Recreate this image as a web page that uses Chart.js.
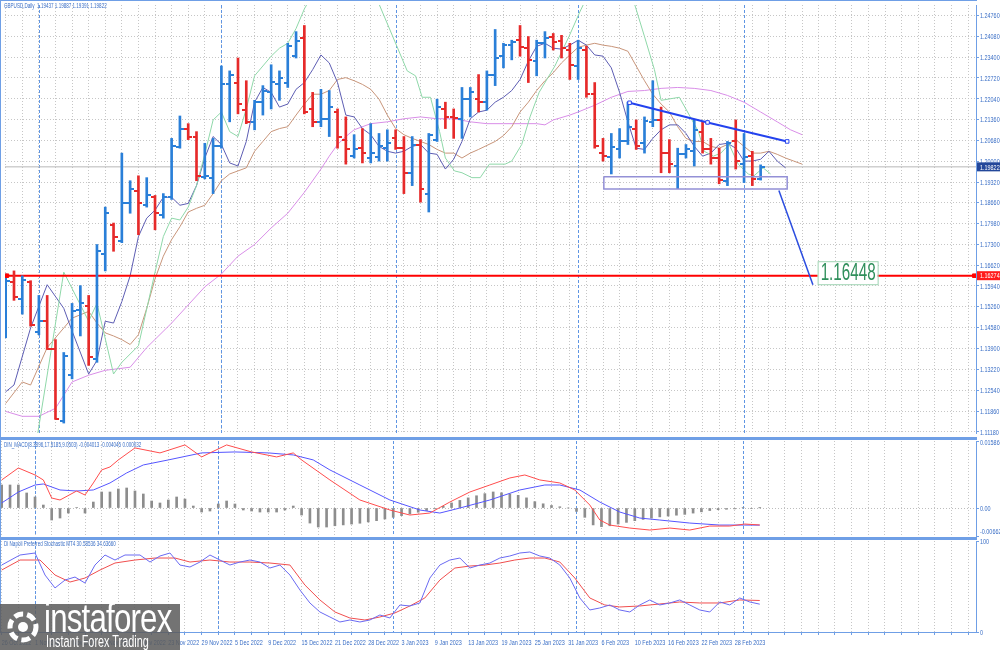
<!DOCTYPE html>
<html>
<head>
<meta charset="utf-8">
<script src="https://cdn.jsdelivr.net/npm/chart.js@4.4.0/dist/chart.umd.min.js"></script>
<style>
  html, body { margin: 0; padding: 0; background: #fff; }
  #wrap { position: relative; width: 1000px; height: 650px; overflow: hidden; background: #fff; }
  #wrap canvas { position: absolute; left: 0; }
  .hdr { position: absolute; left: 4px; font-family: "Liberation Sans", Arial, sans-serif; font-size: 7px; line-height: 8px; color: #3b6fc6;
         white-space: nowrap; transform: scaleX(0.65); transform-origin: left top; }
  .line { position: absolute; background: #6f9fe6; }
  #logo { position: absolute; left: 0; top: 604px; width: 180px; height: 46px; background: rgba(92, 92, 92, 0.86); color: #fff; overflow: hidden; }
  #logo .big { position: absolute; left: 44px; top: -8px; font-family: "Liberation Sans", sans-serif; font-size: 40px; letter-spacing: -1px; transform: scaleX(0.78); transform-origin: left top; }
  #logo .small { position: absolute; left: 46px; top: 29px; font-family: "Liberation Sans", sans-serif; font-size: 16px; transform: scaleX(0.68); transform-origin: left top; white-space: nowrap; }
  #logo svg { position: absolute; left: 4px; top: 4px; }
</style>
</head>
<body>
<div id="wrap">
  <canvas id="mainChart" width="1000" height="438" style="top:0"></canvas>
  <canvas id="macdChart" width="1000" height="100" style="top:438px"></canvas>
  <canvas id="stochChart" width="1000" height="112" style="top:538px"></canvas>

  <div class="line" style="left:0;top:0;width:977px;height:1px"></div>
  <div class="line" style="left:0;top:0;width:1px;height:633px"></div>
  <div class="line" style="left:0;top:437px;width:977px;height:3px"></div>
  <div class="line" style="left:0;top:537px;width:977px;height:3px"></div>

  <div class="hdr" style="top:2px">GBPUSD,Daily&nbsp; 1.19437 1.19887 1.19391 1.19822</div>
  <div class="hdr" style="top:441px">DIN_MACD(8.3896,17.5185,9.0503) -0.004013 -0.004045 0.000032</div>
  <div class="hdr" style="top:540px">Di Napoli Preferred Stochastic MT4 30.58536 34.63660</div>

  <div id="logo">
    <svg width="38" height="38" viewBox="0 0 38 38">
      <circle cx="19" cy="19" r="13" fill="none" stroke="#fff" stroke-width="5" stroke-dasharray="9 4"/>
      <circle cx="19" cy="19" r="5" fill="#fff"/>
    </svg>
    <div class="big">instaforex</div>
    <div class="small">Instant Forex Trading</div>
  </div>
</div>

<script>
// price bars, left to right (26 Oct 2022 .. 3 Mar 2023)
const opens  = [1.1495,1.1607,1.1553,1.1607,1.1444,1.1479,1.1387,1.1153,1.1303,1.1515,1.1527,1.1355,1.1697,1.1793,1.1739,1.1863,1.1905,1.1857,1.1883,1.1825,
  1.1883,1.2046,1.2107,1.2081,1.1950,1.1947,1.2049,1.2251,1.2257,1.2167,1.2129,1.2193,1.2225,1.2251,1.2257,1.2343,1.2401,1.2171,1.2129,1.2139,
  1.2161,1.2071,1.2017,1.2043,1.2011,1.2014,1.2043,1.2075,1.2043,1.1963,1.2055,1.1895,1.2071,1.2171,1.2145,1.2139,1.2203,1.2203,1.2193,1.2283,
  1.2343,1.2379,1.2395,1.2369,1.2327,1.2385,1.2407,1.2391,1.2363,1.2311,1.2363,1.2219,1.2027,1.2014,1.2039,1.2065,1.2107,1.2059,1.2129,1.2135,
  1.2027,1.1985,1.2023,1.2033,1.2097,1.2039,1.2011,1.1937,1.2065,1.1993,1.2017,1.19437];
const highs  = [1.1633,1.1643,1.1627,1.1611,1.1563,1.1563,1.1419,1.1377,1.1537,1.1595,1.1563,1.1729,1.1851,1.1799,1.2027,1.1937,1.1953,1.1947,1.1889,1.1895,
  1.2075,1.2148,1.2123,1.2097,1.2059,1.2075,1.2311,1.2295,1.2337,1.2263,1.2199,1.2247,1.2315,1.2295,1.2385,1.2423,1.2443,1.2225,1.2235,1.2231,
  1.2171,1.2145,1.2087,1.2107,1.2123,1.2091,1.2103,1.2103,1.2081,1.2081,1.2071,1.2091,1.2203,1.2193,1.2171,1.2241,1.2241,1.2283,1.2295,1.2430,
  1.2385,1.2395,1.2443,1.2407,1.2395,1.2423,1.2417,1.2411,1.2385,1.2395,1.2375,1.2257,1.2075,1.2091,1.2107,1.2193,1.2135,1.2145,1.2263,1.2177,
  1.2071,1.2043,1.2055,1.2135,1.2129,1.2075,1.2043,1.2065,1.2135,1.2091,1.2033,1.19887];
const lows   = [1.1425,1.1547,1.1502,1.1463,1.1435,1.1387,1.1159,1.1147,1.1291,1.1431,1.1335,1.1345,1.1643,1.1707,1.1735,1.1831,1.1761,1.1851,1.1777,1.1815,
  1.1876,1.2043,1.2071,1.1937,1.1943,1.1895,1.2043,1.2129,1.2155,1.2123,1.2103,1.2151,1.2171,1.2199,1.2241,1.2337,1.2155,1.2113,1.2113,1.2081,
  1.2043,1.1991,1.2011,1.1995,1.1995,1.2001,1.2001,1.2039,1.1895,1.1921,1.1867,1.1835,1.2065,1.2107,1.2075,1.2075,1.2145,1.2161,1.2167,1.2247,
  1.2305,1.2331,1.2343,1.2257,1.2279,1.2337,1.2363,1.2337,1.2267,1.2267,1.2209,1.2043,1.2001,1.1959,1.2011,1.2055,1.2039,1.2027,1.2113,1.1963,
  1.1963,1.1911,1.2011,1.1985,1.2027,1.1991,1.1927,1.1921,1.1975,1.1931,1.1921,1.19391];
const closes = [1.1611,1.1559,1.1614,1.1467,1.1479,1.1390,1.1159,1.1367,1.1511,1.1540,1.1361,1.1707,1.1831,1.1755,1.1863,1.1911,1.1863,1.1889,1.1831,1.1883,
  1.2049,1.2107,1.2081,1.1953,1.1953,1.2049,1.2251,1.2283,1.2187,1.2129,1.2193,1.2231,1.2260,1.2273,1.2375,1.2391,1.2161,1.2129,1.2139,1.2177,
  1.2081,1.2039,1.2039,1.2027,1.2027,1.2049,1.2059,1.2043,1.1963,1.2055,1.1911,1.2087,1.2177,1.2145,1.2142,1.2203,1.2225,1.2193,1.2283,1.2337,
  1.2379,1.2388,1.2372,1.2331,1.2385,1.2401,1.2388,1.2369,1.2315,1.2369,1.2219,1.2049,1.2017,1.2046,1.2065,1.2113,1.2049,1.2132,1.2135,1.2027,
  1.1991,1.2023,1.2039,1.2103,1.2039,1.2011,1.1940,1.2059,1.2001,1.2014,1.1944,1.19822];

// displaced moving averages, [bar, price]
const maFast = [[3.4,1.1035],[7,1.1639],[10,1.1479],[11,1.1537],[13,1.1307],[14,1.1345],[16,1.1399],[18,1.1639],[19,1.1755],[20,1.1815],[21,1.1809],[22,1.1851],
  [23,1.1921],[24,1.2023],[25,1.2135],[26,1.2161],[27,1.2097],[28,1.2081],[29,1.2171],[30,1.2279],[31,1.2311],[32,1.2343],[33,1.2369],[34,1.2385],[35,1.2433],
  [36,1.2497],[37,1.2545],[39,1.2590],[41,1.2600],[43,1.2575],[45,1.2513],[47.5,1.2353],[48.4,1.2295],[49.4,1.2279],[50.2,1.2209],[51.2,1.2209],[52.3,1.2097],
  [53,1.2011],[54.1,1.1969],[55,1.1963],[56.2,1.1947],[57.2,1.1947],[58.3,1.1991],[60.2,1.1991],[61,1.2001],[62.2,1.2055],[63.2,1.2145],[64.3,1.2225],
  [66.2,1.2311],[67.9,1.2407],[69.2,1.2487],[70.5,1.2560],[72.5,1.2600],[74.5,1.2580],[75.8,1.2513],[77,1.2407],[78.2,1.2299],[79,1.2199],[81.2,1.2209],
  [82.4,1.2151],[83.5,1.2097],[84.2,1.2033],[85.3,1.2017],[86.2,1.2027],[87.2,1.2055],[88.3,1.1991],[89.5,1.1959],[90.2,1.1953],[91.3,1.1979],[92.2,1.1959]];
const maMid = [[0,1.1249],[1,1.1271],[3,1.1457],[5,1.1598],[7,1.1521],[8,1.1447],[10,1.1307],[11,1.1351],[12,1.1479],[13,1.1473],[14,1.1543],[15,1.1627],
  [16,1.1755],[17,1.1815],[18,1.1841],[19,1.1883],[20,1.1883],[21,1.1857],[22,1.1863],[23,1.1921],[24,1.2011],[25,1.2081],[26,1.2055],[27,1.1995],[28,1.1985],
  [29,1.2065],[30,1.2193],[31,1.2241],[32,1.2225],[33,1.2177],[34,1.2187],[35,1.2235],[36,1.2257],[37,1.2299],[38,1.2347],[39,1.2321],[40,1.2257],[41,1.2151],
  [42,1.2145],[43,1.2107],[44,1.2087],[45,1.2049],[46,1.2033],[47,1.2027],[48,1.2033],[49,1.2049],[50,1.2055],[51,1.2027],[52,1.2023],[53,1.1975],[54,1.2007],
  [55,1.2065],[56,1.2139],[57,1.2161],[58,1.2167],[59,1.2193],[60,1.2209],[61,1.2231],[62,1.2267],[63,1.2327],[64,1.2375],[65,1.2385],[66,1.2369],[67,1.2366],
  [68,1.2379],[69,1.2395],[70,1.2379],[71,1.2347],[72,1.2343],[73,1.2305],[74,1.2225],[75,1.2129],[76,1.2043],[77,1.2039],[78,1.2075],[79,1.2103],[80,1.2119],
  [81,1.2119],[82,1.2091],[83,1.2049],[84,1.2017],[85,1.2027],[86,1.2055],[87,1.2059],[88,1.2043],[89,1.2001],[90,1.2001],[91,1.2007],[92,1.2033],[93,1.2001],[94,1.1979]];
const maSlow = [[0,1.1211],[2,1.1281],[3,1.1271],[5,1.1393],[7,1.1457],[8,1.1489],[10,1.1511],[11,1.1473],[12,1.1441],[13,1.1431],[14,1.1419],[15,1.1403],
  [16,1.1435],[17,1.1521],[18,1.1617],[19,1.1691],[20,1.1745],[21,1.1787],[22,1.1835],[23,1.1847],[24,1.1857],[25,1.1895],[26,1.1937],[27,1.1959],[28,1.1969],
  [29,1.1979],[30,1.2033],[31,1.2065],[32,1.2097],[33,1.2107],[34,1.2113],[35,1.2151],[36,1.2187],[37,1.2219],[38,1.2219],[39,1.2231],[40,1.2267],[41,1.2273],
  [42,1.2263],[43,1.2251],[44,1.2235],[45,1.2203],[46,1.2151],[47,1.2107],[48,1.2087],[49,1.2075],[51,1.2055],[52,1.2039],[53,1.2027],[54,1.2027],[55,1.2011],
  [56,1.2027],[57,1.2039],[59,1.2065],[60,1.2084],[61,1.2113],[62,1.2161],[63,1.2193],[64,1.2231],[65,1.2263],[66,1.2289],[67,1.2321],[68,1.2347],[69,1.2372],
  [70,1.2379],[71,1.2385],[72,1.2379],[73,1.2375],[74,1.2369],[75,1.2359],[76,1.2311],[77,1.2263],[78,1.2219],[79,1.2187],[80,1.2161],[81,1.2113],[82,1.2075],
  [83,1.2065],[84,1.2065],[85,1.2049],[86,1.2043],[87,1.2055],[88,1.2071],[89,1.2049],[90,1.2027],[91,1.2027],[92,1.2033],[93,1.2023],[94,1.2011],[95,1.2001],[96,1.1991]];
const maLong = [[0,1.1185],[2,1.1169],[4,1.1169],[6,1.1195],[8,1.1281],[10,1.1303],[12,1.1319],[15,1.1329],[17,1.1393],[20,1.1473],[24,1.1591],[26,1.1633],
  [28,1.1691],[30,1.1729],[32,1.1783],[34,1.1831],[36,1.1899],[38,1.1975],[39,1.2017],[40,1.2055],[41,1.2081],[42,1.2103],[44,1.2123],[46,1.2129],[48,1.2139],
  [50,1.2145],[52,1.2139],[54,1.2139],[56,1.2129],[58,1.2123],[60,1.2123],[62,1.2123],[64,1.2123],[65,1.2119],[66,1.2135],[68,1.2151],[69,1.2161],[71,1.2183],
  [73,1.2209],[75,1.2228],[77,1.2231],[79,1.2238],[81,1.2241],[83,1.2238],[85,1.2231],[87,1.2215],[89,1.2193],[91,1.2161],[93,1.2129],[94.6,1.2103],[96,1.2087]];

// drawn objects
const trendLine = [[75.2,1.2191],[84.6,1.2127],[94.2,1.2065]];
const arrowLine = [[93.2,1.1905],[97.3,1.1598]];
const supportBox = [[72.1,1.1950],[94.2,1.1950],[94.2,1.1910],[72.1,1.1910],[72.1,1.1950]];
const LEVEL = 1.16274;
const levelEnds = [0.15, 116.75];
const TARGET_TEXT = '1.16448';
const TARGET_AT = [97.87, 1.16746];

// MACD panel
const macdRed = [[0,0.00664],[2,0.00948],[4,0.00782],[5,0.00664],[6,0.00237],[7,0.00190],[9,0.00403],[10,0.00308],[11,0.00593],[12,0.00901],[13,0.00972],
  [14,0.01138],[16,0.01422],[19,0.01304],[22,0.01493],[24,0.01209],[27,0.01493],[30,0.01327],[33,0.01209],[35,0.01304],[36,0.01138],[39.4,0.00664],[43,0.00190],
  [46.6,-0.00047],[49,-0.00166],[51.4,-0.00119],[53.8,0.00142],[56.2,0.00379],[58.6,0.00545],[61,0.00711],[62.8,0.00782],[64.6,0.00664],[67,0.00593],[68.8,0.00427],
  [70.6,0.00071],[71.8,-0.00284],[73,-0.00403],[75.4,-0.00474],[77.8,-0.00521],[80.2,-0.00474],[82.6,-0.00521],[85,-0.00427],[87.4,-0.00427],[89.2,-0.00379],[91,-0.00401]];
const macdBlue = [[0,0.00119],[2,0.00379],[4,0.00545],[5,0.00569],[7,0.00427],[9,0.00403],[11,0.00427],[13,0.00593],[15,0.00830],[17,0.01019],[20,0.01138],
  [24,0.01304],[28,0.01327],[32,0.01304],[35,0.01256],[37.4,0.01138],[39.4,0.00901],[43,0.00545],[46.6,0.00190],[50.2,-0.00047],[52.6,-0.00119],[55,0.0],
  [58.6,0.00190],[62.2,0.00427],[65.2,0.00545],[67,0.00545],[69.4,0.00427],[71.8,0.00142],[74.2,-0.00095],[76.6,-0.00237],[79,-0.00284],[82.6,-0.00356],
  [86.2,-0.00403],[89.2,-0.00403],[91,-0.00405]];
const macdHist = [0.00545,0.00545,0.00545,0.00356,0.00261,0.00071,-0.00284,-0.00237,-0.00119,0.0001,-0.00119,0.00142,0.00379,0.00379,0.00450,0.00474,0.00403,0.00332,
  0.00166,0.00119,0.00190,0.00261,0.00213,0.00047,-0.00095,-0.00071,0.00095,0.00166,0.00095,-0.00047,-0.00071,-0.00095,-0.00095,-0.00095,-0.00047,0.00047,
  -0.00166,-0.00356,-0.00450,-0.00450,-0.0042,-0.0040,-0.0038,-0.0036,-0.0033,-0.0030,-0.0026,-0.0022,-0.0018,-0.0014,-0.0010,-0.0006,-0.0002,0.0004,0.0012,
  0.0018,0.0024,0.0029,0.0034,0.0038,0.0036,0.0033,0.0030,0.0024,0.0015,0.0010,0.0006,0.0003,0.0,-0.0008,-0.0022,-0.0040,-0.0044,-0.0042,-0.0038,-0.0034,
  -0.0030,-0.0027,-0.0024,-0.0021,-0.0019,-0.0017,-0.0015,-0.0012,-0.0009,-0.0006,-0.0004,-0.0003,-0.0002,0.0001,-0.0001,0.00003];
const macdTicks = [0.01586, 0, -0.006622];
const macdTickLabels = ['0.01586', '0.00', '-0.006622'];

// stochastic panel
const stochK = [[0,73.6],[2.2,84.6],[4,86.8],[5.2,62.6],[6.4,48.4],[7.6,57.1],[8.8,60.4],[10,53.8],[11.2,73.6],[12.4,84.6],[13.6,79.1],[14.8,84.6],[16.6,84.6],
  [17.8,76.9],[19,83.5],[20.2,86.8],[21.4,73.6],[22.6,71.4],[23.8,76.9],[25,84.6],[26.2,79.1],[27.4,73.6],[28.6,76.9],[29.8,79.1],[31,76.9],[32.2,70.3],
  [33.4,73.6],[34.6,62.6],[35.8,46.2],[37,31.9],[38.2,22.0],[39.4,16.5],[40.6,11.0],[41.8,13.2],[43,11.0],[44.2,13.2],[45.4,18.7],[46.6,15.4],[47.8,29.7],
  [49,28.6],[50.2,31.9],[51.4,59.3],[52.6,73.6],[53.8,79.1],[55,81.3],[56.2,70.3],[57.4,73.6],[58.6,75.8],[59.8,81.3],[61,83.5],[62.2,86.8],[63.4,87.9],
  [64.6,83.5],[65.8,81.3],[67,73.6],[68.2,59.3],[69.4,37.4],[70.6,24.2],[71.8,26.4],[73,29.7],[74.2,24.2],[75.4,22.0],[76.6,29.7],[77.8,35.2],[79,29.7],
  [80.2,31.9],[81.4,35.2],[82.6,29.7],[83.8,24.2],[85,22.0],[86.2,33.0],[87.4,29.7],[88.6,37.4],[89.8,33.0],[91,30.59]];
const stochD = [[0,68.1],[2.2,79.1],[4.6,79.1],[6.4,62.6],[8.2,54.9],[10,59.3],[11.8,68.1],[13.6,75.8],[16,79.1],[18.4,81.3],[20.8,81.3],[22.6,76.9],[25,79.1],
  [27.4,76.9],[29.8,76.9],[32.2,75.8],[34.6,73.6],[36.4,51.6],[38.2,35.2],[40,22.0],[41.8,15.4],[43.6,13.2],[45.4,16.5],[47.2,20.9],[49,28.6],[50.8,37.4],
  [52.6,57.1],[54.4,70.3],[56.2,72.5],[58,73.6],[59.8,75.8],[61.6,79.1],[63.4,81.3],[65.2,81.3],[67,76.9],[68.8,59.3],[70.6,37.4],[72.4,29.7],[74.2,27.5],
  [76.6,28.6],[79,30.8],[81.4,33.0],[83.8,31.9],[86.2,31.9],[88.6,35.2],[91,34.64]];

// axes
const priceTicks = [1.24760,1.24080,1.23400,1.22720,1.22040,1.21360,1.20680,1.20000,1.19320,1.18660,1.17980,1.17300,1.16620,1.15940,1.15260,1.14580,
  1.13900,1.13220,1.12540,1.11860,1.11180];
const dateLabels = ['26 Oct 2022','1 Nov 2022','7 Nov 2022','11 Nov 2022','17 Nov 2022','23 Nov 2022','29 Nov 2022','5 Dec 2022','9 Dec 2022','15 Dec 2022',
  '21 Dec 2022','28 Dec 2022','3 Jan 2023','9 Jan 2023','13 Jan 2023','19 Jan 2023','25 Jan 2023','31 Jan 2023','6 Feb 2023','10 Feb 2023','16 Feb 2023',
  '22 Feb 2023','28 Feb 2023'];
const monthStartBars = [4, 26, 47, 69, 89];

const X_MIN = -0.084, X_MAX = 116.96;
const PRICE_MIN = 1.11146, PRICE_MAX = 1.25098;

const BULL = '#2a7fd8', BEAR = '#e62a2a';
const AXIS = '#6f9fe6', TXT = '#3b6fc6', GRID = '#c6c6c6';
const LABEL_FONT = '8px "Liberation Sans", Arial, sans-serif';
const SQUASH = 0.68;

const pts = arr => arr.map(p => ({ x: p[0], y: p[1] }));
const up = i => closes[i] >= opens[i];
const barIdx = opens.map((_, i) => i);

function tickImage(color, side) {
  const c = document.createElement('canvas');
  c.width = 8; c.height = 2;
  const g = c.getContext('2d');
  g.fillStyle = color;
  g.fillRect(side === 'left' ? 0 : 4, 0, 4, 2);
  return c;
}
const ticksImg = {
  bullL: tickImage(BULL, 'left'), bullR: tickImage(BULL, 'right'),
  bearL: tickImage(BEAR, 'left'), bearR: tickImage(BEAR, 'right')
};

const gridBars = [];
for (let b = 0; b <= 116; b += 2) gridBars.push(b);

function xAxis(withLine) {
  return {
    type: 'linear', min: X_MIN, max: X_MAX, offset: false,
    afterBuildTicks: s => { s.ticks = gridBars.map(v => ({ value: v })); },
    afterFit: s => { s.height = withLine ? 18 : 0; },
    grid: { color: GRID, offset: false, drawTicks: withLine, tickLength: 3, tickColor: AXIS },
    border: { display: withLine, color: AXIS, dash: [1, 2] },
    ticks: { display: false }
  };
}

function yAxis(min, max, ticks, gridColor) {
  return {
    position: 'right', min: min, max: max,
    afterBuildTicks: s => { s.ticks = ticks.map(v => ({ value: v })); },
    afterFit: s => { s.width = 24; },
    grid: { color: gridColor, drawTicks: true, tickLength: 3, tickColor: AXIS },
    border: { display: true, color: AXIS, dash: [1, 2] },
    ticks: { display: false }
  };
}

// squeezed axis text, placed from the scales
function squashText(ctx, text, x, y) {
  ctx.save();
  ctx.translate(x, y);
  ctx.scale(SQUASH, 1);
  ctx.fillText(text, 0, 0);
  ctx.restore();
}
function axisText(labelFor, withDates, keepInside) {
  return {
    id: 'axisText',
    afterDraw(chart) {
      const { ctx, chartArea: a, scales: { x, y } } = chart;
      ctx.save();
      ctx.fillStyle = TXT;
      ctx.font = LABEL_FONT;
      ctx.textBaseline = 'middle';
      y.ticks.forEach(t => {
        let py = y.getPixelForValue(t.value) + 0.5;
        if (keepInside) py = Math.min(Math.max(py, a.top + 2), a.bottom - 4);
        squashText(ctx, labelFor(t.value), a.right + 4, py);
      });
      if (withDates) {
        dateLabels.forEach((d, k) => squashText(ctx, d, x.getPixelForValue(k * 4), a.bottom + 11));
      }
      ctx.restore();
    }
  };
}

const monthLines = {
  id: 'monthLines',
  beforeDatasetsDraw(chart) {
    const { ctx, chartArea: a, scales: { x } } = chart;
    ctx.save();
    ctx.strokeStyle = '#5f95e3'; ctx.lineWidth = 1; ctx.setLineDash([3, 2]);
    monthStartBars.forEach(b => {
      const px = Math.round(x.getPixelForValue(b)) + 0.5;
      ctx.beginPath(); ctx.moveTo(px, a.top); ctx.lineTo(px, a.bottom); ctx.stroke();
    });
    ctx.restore();
  }
};

const priceMarks = {
  id: 'priceMarks',
  afterDraw(chart) {
    const { ctx, chartArea: a, scales: { x, y } } = chart;
    const box = (val, bg) => {
      const py = y.getPixelForValue(val);
      ctx.fillStyle = bg;
      ctx.fillRect(a.right + 1, py - 4.5, chart.width - a.right - 1, 9);
      ctx.fillStyle = '#fff';
      ctx.font = LABEL_FONT;
      ctx.textBaseline = 'middle';
      squashText(ctx, val.toFixed(5), a.right + 4, py + 0.5);
    };
    ctx.save();
    box(closes[closes.length - 1], '#23479a');
    box(LEVEL, '#ff1a1a');

    const lx = x.getPixelForValue(TARGET_AT[0]), ly = y.getPixelForValue(TARGET_AT[1]);
    ctx.fillStyle = '#fff'; ctx.strokeStyle = '#9fd4b3'; ctx.lineWidth = 1;
    ctx.fillRect(lx, ly, 60, 23);
    ctx.strokeRect(lx + 0.5, ly + 0.5, 60, 23);
    ctx.translate(lx + 3, ly + 19);
    ctx.scale(0.635, 1);
    ctx.font = '24px "Liberation Sans", Arial, sans-serif';
    ctx.textBaseline = 'alphabetic';
    ctx.fillStyle = '#2f8f5b';
    ctx.fillText(TARGET_TEXT, 0, 0);
    ctx.restore();
  }
};

const common = {
  responsive: false, animation: false, events: [],
  plugins: { legend: { display: false }, tooltip: { enabled: false } }
};

const lastClose = closes[closes.length - 1];
const lineDs = (data, color, width, order) => ({
  type: 'line', data: data, borderColor: color, borderWidth: width, pointRadius: 0, tension: 0, order: order
});

new Chart(document.getElementById('mainChart'), {
  type: 'bar',
  data: {
    datasets: [
      { type: 'bar', data: barIdx.map(i => ({ x: i, y: [lows[i], highs[i]] })), backgroundColor: c => up(c.dataIndex) ? BULL : BEAR,
        barThickness: 2, borderWidth: 0, order: 2 },
      { type: 'scatter', data: barIdx.map(i => ({ x: i, y: opens[i] })), pointStyle: c => up(c.dataIndex) ? ticksImg.bullL : ticksImg.bearL,
        pointRadius: 3, order: 1 },
      { type: 'scatter', data: barIdx.map(i => ({ x: i, y: closes[i] })), pointStyle: c => up(c.dataIndex) ? ticksImg.bullR : ticksImg.bearR,
        pointRadius: 3, order: 1 },
      lineDs(pts(maFast), '#8fd8a9', 1, 5),
      lineDs(pts(maMid), '#5d5db3', 1, 5),
      lineDs(pts(maSlow), '#c8957a', 1, 5),
      lineDs(pts(maLong), '#d98ee8', 1, 5),
      lineDs([{ x: X_MIN, y: lastClose }, { x: X_MAX, y: lastClose }], '#b8b8b8', 1, 6),
      lineDs([{ x: X_MIN, y: LEVEL }, { x: X_MAX, y: LEVEL }], '#ff0000', 2, 3),
      { type: 'scatter', data: levelEnds.map(v => ({ x: v, y: LEVEL })), pointStyle: 'rect', pointRadius: 2.5,
        backgroundColor: '#ff0000', borderColor: '#ff0000', order: 0 },
      { type: 'line', data: pts(trendLine), borderColor: '#2342ee', borderWidth: 2, tension: 0, pointStyle: 'rect', pointRadius: 2.5,
        pointBackgroundColor: '#fff', pointBorderColor: '#2342ee', pointBorderWidth: 1, order: 0 },
      lineDs(pts(arrowLine), '#2b4de0', 1.5, 0),
      Object.assign(lineDs(pts(supportBox), '#9390d6', 1.5, 0), { borderDash: [2000, 0] })
    ]
  },
  options: Object.assign({}, common, {
    layout: { padding: { left: 1, top: 1, right: 0, bottom: 1 } },
    scales: { x: xAxis(false), y: yAxis(PRICE_MIN, PRICE_MAX, priceTicks, GRID) }
  }),
  plugins: [monthLines, axisText(v => v.toFixed(5), false, false), priceMarks]
});

new Chart(document.getElementById('macdChart'), {
  type: 'bar',
  data: {
    datasets: [
      { type: 'bar', data: barIdx.map(i => ({ x: i, y: macdHist[i] })), backgroundColor: '#8d8d8d', barThickness: 2, order: 3 },
      lineDs(pts(macdRed), '#ff4d4d', 1, 1),
      lineDs(pts(macdBlue), '#5555ff', 1, 2)
    ]
  },
  options: Object.assign({}, common, {
    layout: { padding: { left: 1, top: 3, right: 0, bottom: 2 } },
    scales: {
      x: xAxis(false),
      y: yAxis(macdTicks[2], macdTicks[0], macdTicks, c => (c.tick && c.tick.value === 0) ? '#bdbdbd' : 'rgba(0,0,0,0)')
    }
  }),
  plugins: [monthLines, axisText(v => macdTickLabels[macdTicks.indexOf(v)], false, true)]
});

new Chart(document.getElementById('stochChart'), {
  type: 'line',
  data: {
    datasets: [
      lineDs(pts(stochK), '#6a6af2', 1, 1),
      lineDs(pts(stochD), '#f04e4e', 1, 2)
    ]
  },
  options: Object.assign({}, common, {
    layout: { padding: { left: 1, top: 3, right: 0, bottom: 0 } },
    scales: { x: xAxis(true), y: yAxis(0, 100, [100, 0], 'rgba(0,0,0,0)') }
  }),
  plugins: [monthLines, axisText(v => String(v), true, false)]
});
</script>
</body>
</html>
